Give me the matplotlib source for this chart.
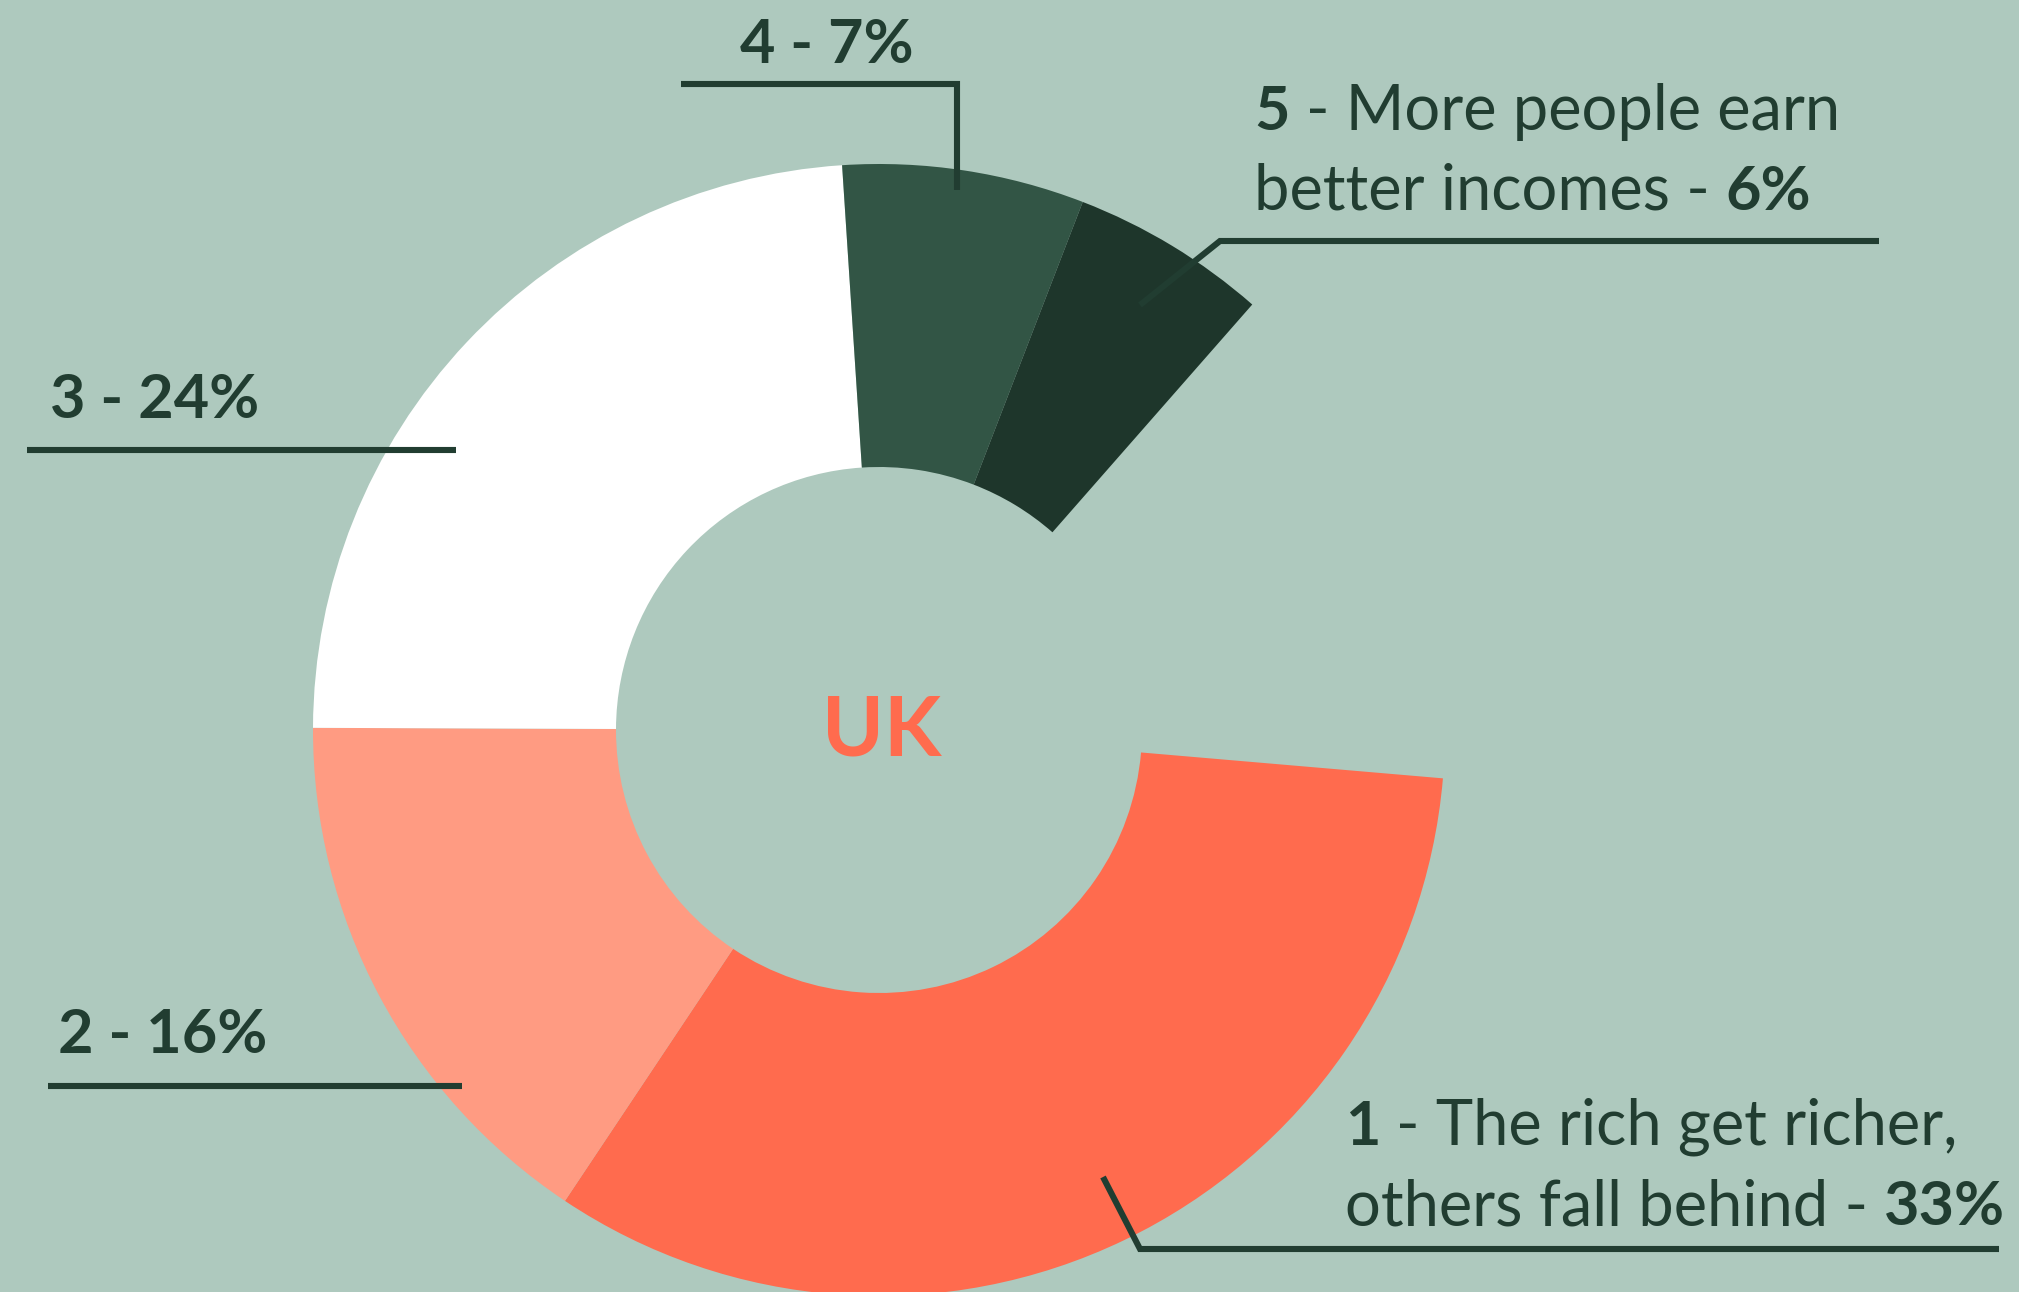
import matplotlib.pyplot as plt

# canvas in pixels
W, H = 2019, 1292
BG = '#AEC9BE'
INK = '#213D31'
FONT = ['Lato', 'DejaVu Sans']

# ----- data -----
# wedge sizes (% of a full turn) as read off the arcs; labels show rounded values
shares = [33.0, 15.7, 23.9, 6.9, 5.6]
ranks = ['1', '2', '3', '4', '5']
pct_text = ['33%', '16%', '24%', '7%', '6%']
colors = ['#FF6B4E', '#FF9B82', '#FFFFFF', '#325545', '#1E362B']

fig = plt.figure(figsize=(W / 100, H / 100), dpi=100, facecolor=BG)
ax = fig.add_axes([0, 0, 1, 1])

cx, cy = 879, H - 730
R_out, R_in = 566, 263

ax.pie([s / 100 for s in shares], colors=colors, startangle=-4.9,
       counterclock=False, radius=R_out, center=(cx, cy), normalize=False,
       wedgeprops=dict(width=R_out - R_in, linewidth=0))

ax.set_xlim(0, W)
ax.set_ylim(0, H)
ax.set_aspect('equal')
ax.axis('off')

# ----- leader lines (pixel coords, y from top) -----
leaders = [
    [(1103, 1177), (1140, 1249), (1999, 1249)],
    [(48, 1086), (462, 1086)],
    [(27, 450), (456, 450)],
    [(681, 84), (957, 84), (957, 190)],
    [(1140, 305), (1220, 241), (1879, 241)],
]
for pts in leaders:
    xs = [p[0] for p in pts]
    ys = [H - p[1] for p in pts]
    ax.plot(xs, ys, color=INK, lw=4.4, solid_capstyle='butt',
            solid_joinstyle='miter')

SIZE = 44
SIZE_TXT = 45.5
renderer = fig.canvas.get_renderer()


def rich_line(x, ytop, parts, gap=16):
    # parts: (text, weight); pieces placed one after another on a baseline
    for txt, w in parts:
        fs = SIZE if w == 'bold' else SIZE_TXT
        t = ax.text(x, H - ytop, txt, fontsize=fs, fontweight=w, color=INK,
                    family=FONT, ha='left', va='baseline')
        x += t.get_window_extent(renderer=renderer).width + gap


# short labels, all bold
short = {1: (58, 1053), 2: (50, 418), 3: (740, 63)}
for i, (x, y) in short.items():
    ax.text(x, H - y, f'{ranks[i]} - {pct_text[i]}', fontsize=SIZE,
            fontweight='bold', color=INK, family=FONT, ha='left', va='baseline')

# long labels, number bold + plain text
rich_line(1254, 130, [(ranks[4], 'bold'), ('- More people earn', 'normal')])
rich_line(1254, 210, [('better incomes -', 'normal'), (pct_text[4], 'bold')])
rich_line(1345, 1145, [(ranks[0], 'bold'), ('- The rich get richer,', 'normal')])
rich_line(1345, 1225, [('others fall behind -', 'normal'), (pct_text[0], 'bold')])

ax.text(882, H - 755, 'UK', fontsize=60, fontweight='bold', color='#FF6B4E',
        family=FONT, ha='center', va='baseline')

fig.savefig('out.png', dpi=100, facecolor=BG)
